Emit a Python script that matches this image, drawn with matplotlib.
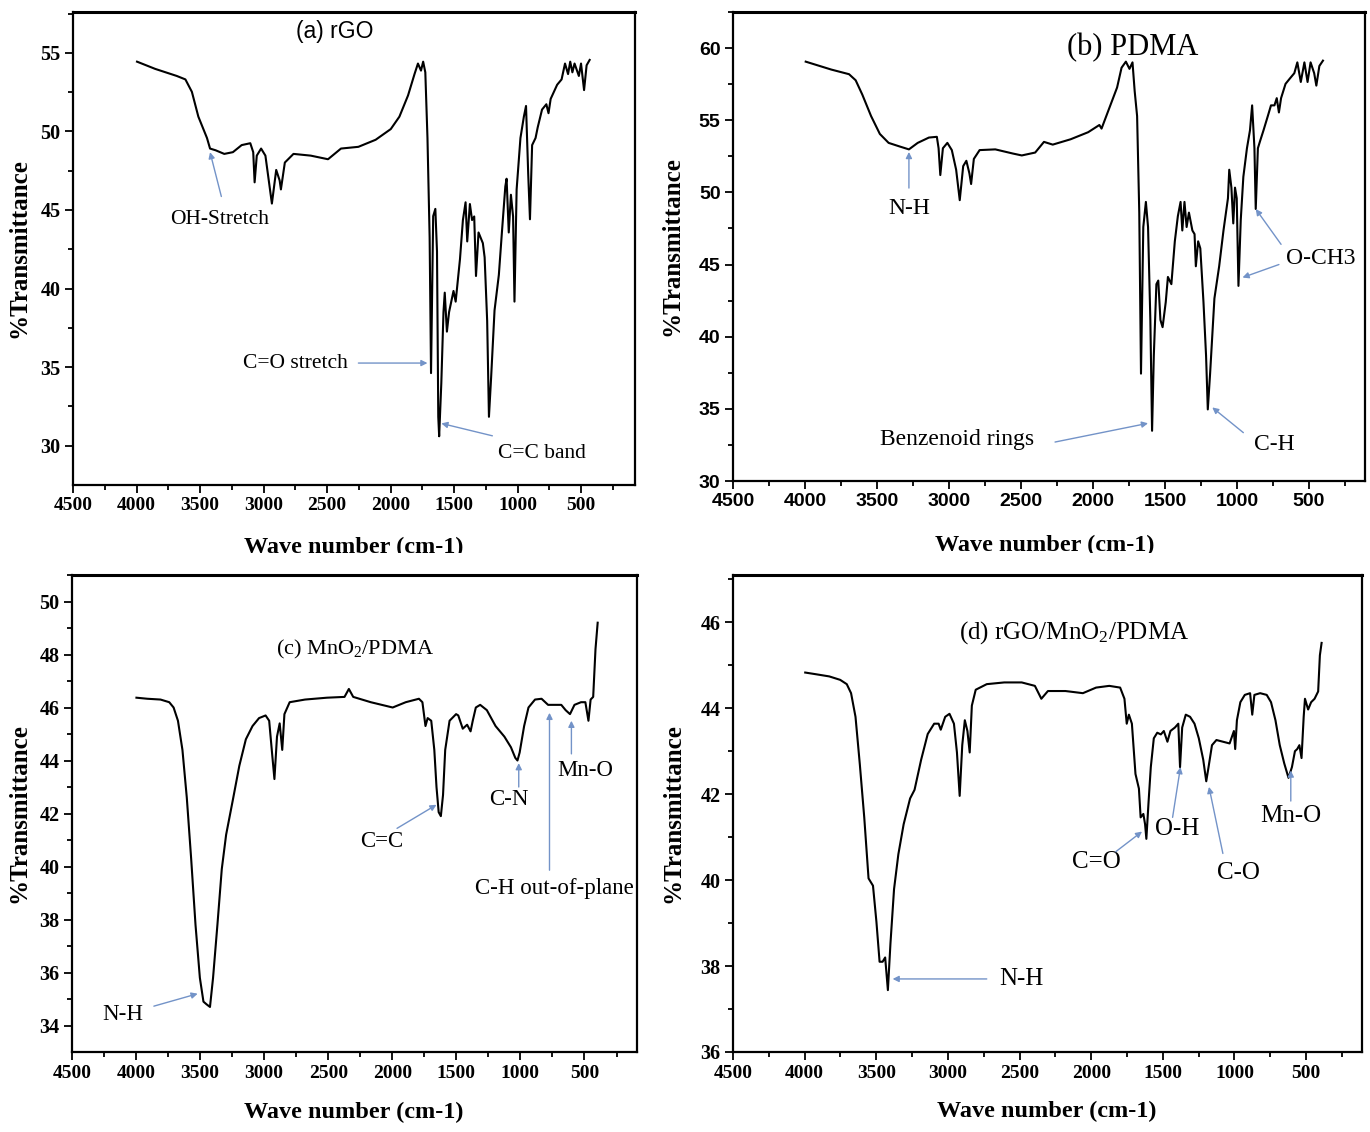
import matplotlib.pyplot as plt
from matplotlib.transforms import Bbox, TransformedBbox

plt.rcParams["mathtext.fontset"] = "custom"
plt.rcParams["mathtext.rm"] = "Liberation Serif"
plt.rcParams["mathtext.it"] = "Liberation Serif:italic"

SERIF = "Liberation Serif"
SANS = "Liberation Sans"
ARROW = "#7393c8"
W, H = 1370, 1132

# x ticks shared by all panels
x_ticks = [4500, 4000, 3500, 3000, 2500, 2000, 1500, 1000, 500]

# (a) rGO
rgo_wn = [3996, 3853, 3683, 3615, 3564, 3513, 3445, 3421, 3377, 3309,
          3241, 3172, 3104, 3081, 3070, 3053, 3019, 2985, 2934, 2900,
          2873, 2863, 2832, 2764, 2628, 2492, 2390, 2253, 2117, 1998,
          1930, 1862, 1811, 1784, 1760, 1743, 1726, 1709, 1692, 1681,
          1664, 1647, 1634, 1624, 1617, 1600, 1583, 1573, 1556, 1539,
          1504, 1487, 1453, 1430, 1409, 1396, 1375, 1358, 1341, 1327,
          1307, 1273, 1259, 1239, 1225, 1208, 1181, 1147, 1123, 1096,
          1086, 1069, 1052, 1035, 1024, 1007, 977, 950, 933, 916,
          902, 885, 858, 841, 807, 773, 756, 739, 688, 653,
          626, 602, 585, 568, 551, 517, 500, 476, 456, 432]
rgo_t = [54.44, 53.98, 53.53, 53.31, 52.52, 50.94, 49.58, 48.91, 48.80, 48.57,
         48.68, 49.13, 49.25, 48.68, 46.76, 48.46, 48.91, 48.46, 45.41, 47.55,
         46.88, 46.31, 48.02, 48.57, 48.46, 48.23, 48.91, 49.02, 49.47, 50.15,
         50.94, 52.29, 53.65, 54.32, 53.87, 54.44, 53.76, 49.58, 43.26, 34.62,
         44.61, 45.07, 42.36, 31.84, 30.60, 33.99, 38.50, 39.74, 37.26, 38.50,
         39.85, 39.17, 41.88, 44.36, 45.49, 43.0, 45.38, 44.36, 44.59, 40.8,
         43.57, 42.89, 41.99, 37.94, 31.84, 34.32, 38.61, 40.87, 43.57, 46.5,
         46.99, 43.57, 45.97, 44.59, 39.17, 46.31, 49.58, 50.94, 51.62, 47.33,
         44.41, 49.13, 49.58, 50.26, 51.39, 51.73, 51.16, 52.07, 52.97, 53.31,
         54.32, 53.65, 54.44, 53.76, 54.32, 53.53, 54.32, 52.63, 54.21, 54.55]
rgo_yticks = [30, 35, 40, 45, 50, 55]

# (b) PDMA
pdma_wn = [3995, 3817, 3694, 3648, 3602, 3541, 3480, 3419, 3342, 3278,
           3217, 3139, 3084, 3072, 3060, 3042, 3011, 2980, 2950, 2925,
           2901, 2879, 2858, 2846, 2827, 2787, 2678, 2555, 2494, 2401,
           2340, 2279, 2155, 2033, 1955, 1940, 1879, 1832, 1801, 1771,
           1746, 1725, 1710, 1693, 1678, 1666, 1650, 1632, 1617, 1601,
           1589, 1577, 1559, 1546, 1531, 1516, 1494, 1479, 1455, 1431,
           1410, 1391, 1379, 1364, 1349, 1333, 1309, 1294, 1285, 1269,
           1254, 1232, 1214, 1202, 1186, 1156, 1123, 1093, 1062, 1053,
           1038, 1025, 1013, 1001, 989, 973, 955, 930, 909, 894,
           878, 869, 854, 839, 815, 785, 763, 739, 723, 708,
           693, 662, 632, 601, 580, 556, 531, 509, 488, 463,
           448, 427, 402]
pdma_t = [59.06, 58.51, 58.19, 57.77, 56.78, 55.29, 54.05, 53.43, 53.18, 52.98,
          53.43, 53.80, 53.85, 53.06, 51.2, 53.06, 53.43, 52.93, 51.57, 49.46,
          51.82, 52.19, 51.32, 50.58, 52.32, 52.93, 52.98, 52.69, 52.56, 52.76,
          53.5, 53.31, 53.68, 54.17, 54.67, 54.42, 56.03, 57.27, 58.64, 59.06,
          58.56, 59.01, 57.03, 55.29, 48.6, 37.44, 47.6, 49.34, 47.6, 41.16,
          33.48, 38.68, 43.64, 43.89, 41.16, 40.66, 42.4, 44.14, 43.64, 46.61,
          48.35, 49.34, 47.36, 49.34, 47.6, 48.6, 47.36, 47.11, 44.88, 46.61,
          46.12, 42.4, 38.68, 34.96, 37.44, 42.65, 44.88, 47.36, 49.59, 51.57,
          50.33, 47.85, 50.33, 49.59, 43.52, 48.1, 51.08, 53.06, 54.3, 56.03,
          53.06, 48.85, 53.06, 53.55, 54.3, 55.29, 56.03, 56.03, 56.53, 55.54,
          56.53, 57.52, 57.89, 58.26, 59.01, 57.65, 59.01, 57.65, 59.01, 58.26,
          57.4, 58.76, 59.13]
pdma_yticks = [30, 35, 40, 45, 50, 55, 60]

# (c) MnO2/PDMA
mno2_wn = [3997, 3912, 3809, 3741, 3707, 3673, 3638, 3604, 3570, 3536,
           3502, 3474, 3450, 3423, 3399, 3365, 3331, 3297, 3245, 3194,
           3143, 3091, 3040, 2989, 2961, 2937, 2920, 2900, 2879, 2859,
           2842, 2801, 2681, 2510, 2373, 2339, 2305, 2168, 1997, 1895,
           1792, 1765, 1741, 1724, 1696, 1672, 1655, 1638, 1621, 1604,
           1587, 1553, 1502, 1485, 1450, 1416, 1389, 1372, 1348, 1314,
           1262, 1194, 1125, 1074, 1040, 1023, 1006, 971, 937, 886,
           835, 784, 732, 681, 647, 613, 578, 527, 493, 469,
           452, 432, 414, 397]
mno2_t = [46.37, 46.33, 46.3, 46.2, 46.0, 45.5, 44.4, 42.6, 40.3, 37.8,
          35.8, 34.9, 34.8, 34.7, 35.8, 37.8, 39.9, 41.2, 42.5, 43.8,
          44.8, 45.3, 45.6, 45.7, 45.5, 44.2, 43.3, 44.9, 45.4, 44.4,
          45.75, 46.2, 46.3, 46.37, 46.4, 46.7, 46.4, 46.2, 46.0, 46.2,
          46.33, 46.2, 45.3, 45.6, 45.5, 44.4, 43.0, 42.05, 41.9, 42.7,
          44.4, 45.5, 45.75, 45.7, 45.2, 45.35, 45.1, 45.5, 46.0, 46.1,
          45.9, 45.3, 44.9, 44.5, 44.1, 44.0, 44.3, 45.3, 46.0, 46.3,
          46.33, 46.1, 46.1, 46.1, 45.9, 45.75, 46.1, 46.2, 46.2, 45.5,
          46.3, 46.4, 48.2, 49.2]
mno2_yticks = [34, 36, 38, 40, 42, 44, 46, 48, 50]

# (d) rGO/MnO2/PDMA
comp_wn = [3996, 3920, 3828, 3752, 3706, 3676, 3645, 3615, 3584, 3554,
           3523, 3499, 3477, 3456, 3438, 3419, 3401, 3376, 3346, 3309,
           3264, 3233, 3187, 3141, 3096, 3065, 3050, 3019, 2989, 2958,
           2937, 2918, 2900, 2882, 2864, 2848, 2833, 2806, 2729, 2607,
           2485, 2393, 2348, 2302, 2180, 2058, 1966, 1874, 1798, 1768,
           1752, 1737, 1716, 1691, 1667, 1655, 1636, 1624, 1615, 1600,
           1584, 1563, 1539, 1514, 1493, 1468, 1447, 1416, 1392, 1380,
           1365, 1340, 1310, 1279, 1249, 1218, 1197, 1181, 1157, 1126,
           1080, 1034, 1004, 995, 983, 959, 928, 891, 876, 861,
           821, 775, 745, 714, 684, 653, 623, 599, 578, 562,
           547, 532, 517, 508, 486, 465, 441, 416, 404, 392]
comp_t = [44.83, 44.79, 44.74, 44.66, 44.56, 44.35, 43.8, 42.7, 41.46, 40.04,
          39.87, 39.03, 38.1, 38.1, 38.2, 37.44, 38.53, 39.79, 40.6, 41.3,
          41.9, 42.1, 42.8, 43.4, 43.64, 43.64, 43.5, 43.8, 43.87, 43.64,
          42.97, 41.96, 43.14, 43.72, 43.47, 42.97, 44.06, 44.43, 44.56, 44.6,
          44.6, 44.52, 44.22, 44.4, 44.4, 44.35, 44.48, 44.52, 44.48, 44.22,
          43.64, 43.85, 43.64, 42.47, 42.13, 41.46, 41.54, 41.3, 40.96, 41.8,
          42.63, 43.3, 43.43, 43.39, 43.47, 43.22, 43.47, 43.55, 43.64, 42.63,
          43.55, 43.85, 43.8, 43.64, 43.3, 42.8, 42.3, 42.63, 43.14, 43.26,
          43.22, 43.18, 43.47, 43.05, 43.72, 44.14, 44.31, 44.35, 43.85, 44.31,
          44.35, 44.31, 44.14, 43.72, 43.14, 42.72, 42.38, 42.63, 43.0, 43.05,
          43.14, 42.84, 43.8, 44.22, 43.97, 44.14, 44.22, 44.39, 45.23, 45.52]
comp_yticks = [36, 38, 40, 42, 44, 46]


def panel(l, t, r, b):
    # axes box given in pixels of the final image
    return fig.add_axes([l / W, 1 - b / H, (r - l) / W, (b - t) / H])


def style(ax, xright, ylim, yticks, yminor, family, xsize, ysize, labx):
    ax.set_xlim(4500, xright)
    ax.set_ylim(*ylim)
    ax.set_xticks(x_ticks)
    ax.set_xticks(range(250, 4500, 500), minor=True)
    ax.set_yticks(yticks)
    ax.set_yticks([v + yminor for v in yticks], minor=True)
    ax.set_xticklabels([str(v) for v in x_ticks], fontfamily=family,
                       fontweight="bold", fontsize=xsize)
    ax.set_yticklabels([str(v) for v in yticks], fontfamily=family,
                       fontweight="bold", fontsize=ysize)
    ax.tick_params(which="both", direction="out", top=False, right=False, width=1.3)
    ax.tick_params(which="major", length=6, pad=3)
    ax.tick_params(which="minor", length=3.5)
    for sp in ax.spines.values():
        sp.set_linewidth(1.6)
    ax.spines["top"].set_linewidth(2.2)
    ax.set_ylabel("%Transmittance", fontfamily=SERIF, fontweight="bold", fontsize=18)
    ax.yaxis.set_label_coords(labx, 0.5)


def note(ax, text, pos, tail, tip, size, ha="center"):
    ax.text(pos[0], pos[1], text, ha=ha, va="center", fontfamily=SERIF, fontsize=size)
    ax.annotate("", xy=tip, xytext=tail,
                arrowprops=dict(arrowstyle="-|>", color=ARROW, lw=1.0,
                                mutation_scale=9, shrinkA=0, shrinkB=0))


def xlabel(x, y, clip=None):
    txt = fig.text(x / W, 1 - y / H, "Wave number (cm-1)", ha="center", va="top",
                   fontfamily=SERIF, fontweight="bold", fontsize=17.5)
    if clip is not None:
        box = Bbox([[0, 1 - clip / H], [1, 1]])
        txt.set_clip_box(TransformedBbox(box, fig.transFigure))
        txt.set_clip_on(True)


fig = plt.figure(figsize=(W / 100, H / 100), dpi=100)

# (a)
ax = panel(73, 12, 635, 485)
ax.plot(rgo_wn, rgo_t, color="black", lw=1.5)
style(ax, 75, (27.5, 57.6), rgo_yticks, 2.5, SERIF, 14, 14.5, -0.075)
ax.text(2440, 56.35, "(a) rGO", ha="center", va="center", fontfamily=SANS, fontsize=16.5)
note(ax, "OH-Stretch", (3343, 44.39), (3332, 45.86), (3421, 48.68), 15.5)
note(ax, "C=O stretch", (2747, 35.26), (2253, 35.26), (1709, 35.26), 15.5)
note(ax, "C=C band", (807, 29.5), (1198, 30.63), (1600, 31.42), 15.5)
xlabel(354, 537, clip=553)

# (b)
ax = panel(733, 12, 1365, 481)
ax.plot(pdma_wn, pdma_t, color="black", lw=1.5)
style(ax, 110, (30, 62.5), pdma_yticks, 2.5, SANS, 14, 14, -0.078)
ax.text(1726, 60.0, "(b) PDMA", ha="center", va="center", fontfamily=SERIF, fontsize=22)
note(ax, "N-H", (3278, 48.85), (3278, 50.3), (3278, 52.8), 17)
note(ax, "O-CH3", (662, 45.4), (693, 46.4), (869, 48.85), 17, ha="left")
ax.annotate("", xy=(961, 44.1), xytext=(708, 45.0),
            arrowprops=dict(arrowstyle="-|>", color=ARROW, lw=1.0,
                            mutation_scale=9, shrinkA=0, shrinkB=0))
note(ax, "Benzenoid rings", (2941, 32.85), (2263, 32.7), (1617, 34.0), 17)
note(ax, "C-H", (739, 32.5), (955, 33.35), (1171, 35.1), 17)
xlabel(1045, 535, clip=553)

# (c)
ax = panel(72, 575, 637, 1052)
ax.plot(mno2_wn, mno2_t, color="black", lw=1.5)
style(ax, 90, (33.0, 51.0), mno2_yticks, 1, SERIF, 14, 14.5, -0.073)
ax.text(2288, 48.2, "(c) MnO$_2$/PDMA", ha="center", va="center", fontfamily=SERIF, fontsize=16)
note(ax, "N-H", (4100, 34.4), (3861, 34.73), (3519, 35.2), 16.5)
note(ax, "C=C", (2083, 40.96), (1963, 41.44), (1655, 42.33), 16.5)
note(ax, "C-N", (1091, 42.53), (1013, 43.0), (1013, 43.9), 16.5)
note(ax, "C-H out-of-plane", (732, 39.18), (773, 39.86), (773, 45.8), 16.5)
note(ax, "Mn-O", (493, 43.63), (602, 44.25), (602, 45.5), 16.5)
xlabel(354, 1102)

# (d)
ax = panel(733, 575, 1362, 1052)
ax.plot(comp_wn, comp_t, color="black", lw=1.5)
style(ax, 110, (36, 47.1), comp_yticks, 1, SERIF, 14, 14.5, -0.078)
ax.text(2119, 45.77, "(d) rGO/MnO$_2$/PDMA", ha="center", va="center", fontfamily=SERIF, fontsize=18)
note(ax, "N-H", (2485, 37.69), (2729, 37.7), (3386, 37.7), 18)
note(ax, "C=O", (1966, 40.41), (1829, 40.66), (1645, 41.13), 18)
note(ax, "O-H", (1401, 41.2), (1432, 41.46), (1377, 42.63), 18)
note(ax, "C-O", (974, 40.16), (1081, 40.62), (1178, 42.17), 18)
note(ax, "Mn-O", (607, 41.5), (607, 41.84), (607, 42.55), 18)
xlabel(1047, 1101)

fig.savefig("out.png", dpi=100)
